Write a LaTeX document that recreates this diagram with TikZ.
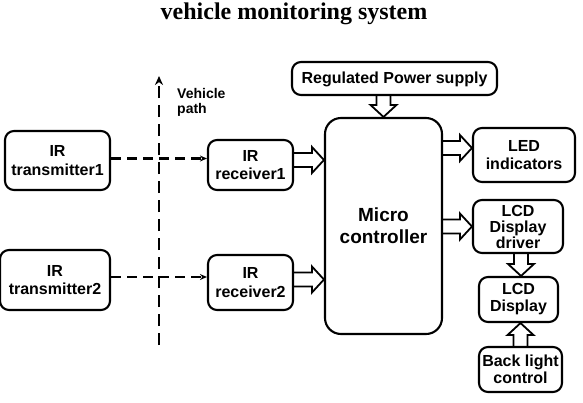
\documentclass[tikz,border=0pt]{standalone}
\usepackage{fontspec}
\setmainfont{Liberation Sans}
\newfontfamily\titlefont{Liberation Serif}
\usetikzlibrary{calc,arrows.meta}
\tikzset{
  blk/.style={draw, line width=2.1pt, rounded corners=9pt, align=center, font=\bfseries\fontsize{16}{18.5}\selectfont, inner sep=1pt},
  barrowstyle/.style={draw, line width=1.8pt, line join=miter},
  dashconn/.style={line width=2.2pt, dash pattern=on 10pt off 6pt, -{Stealth[length=7pt,width=6pt]}},
}
\newcommand\blockarrow[2]{%
  \path let \p1=($(#2)-(#1)$), \n1={veclen(\x1,\y1)}, \n2={atan2(\y1,\x1)} in
    \pgfextra{\xdef\balen{\n1}\xdef\baang{\n2}};
  \begin{scope}[shift={(#1)}, rotate=\baang, x=1pt, y=1pt]
    \draw[barrowstyle] (0,7) -- (\balen-12,7) -- (\balen-12,13) -- (\balen,0) -- (\balen-12,-13) -- (\balen-12,-7) -- (0,-7);
  \end{scope}}
\begin{document}
\begin{tikzpicture}[x=1pt,y=-1pt]
\useasboundingbox (0,0) rectangle (583,402);
\node[font=\titlefont\bfseries\fontsize{24}{26}\selectfont] (title) at (294,14) {vehicle monitoring system};

\node[blk, minimum width=105pt, minimum height=59pt] (tx1) at (57.5,160.5) {IR\\transmitter1};
\node[blk, minimum width=110pt, minimum height=60pt] (tx2) at (55,280) {IR\\transmitter2};
\node[blk, minimum width=85pt, minimum height=50pt] (rx1) at (250.5,165) {IR\\receiver1};
\node[blk, minimum width=85pt, minimum height=55pt] (rx2) at (250.5,282.5) {IR\\receiver2};
\node[blk, rounded corners=16pt, minimum width=117pt, minimum height=216pt, font=\bfseries\fontsize{19}{22}\selectfont] (mc) at (383.5,226) {Micro\\controller};
\node[blk, minimum width=205pt, minimum height=33pt, text depth=2pt] (ps) at (394.5,78.5) {Regulated Power supply};
\node[blk, minimum width=102pt, minimum height=54pt] (led) at (524,155) {LED\\indicators};
\node[blk, minimum width=90pt, minimum height=53pt, font=\bfseries\fontsize{16}{16}\selectfont] (drv) at (518,226.5) {LCD\\Display\\driver};
\node[blk, minimum width=79pt, minimum height=45pt, font=\bfseries\fontsize{16}{17}\selectfont] (lcd) at (518.5,299.5) {LCD\\Display};
\node[blk, minimum width=83pt, minimum height=45pt, font=\bfseries\fontsize{16}{17}\selectfont] (bl) at (520.5,369.5) {Back light\\control};

% vehicle path
\coordinate (vpb) at (159,345);
\coordinate (vpt) at (159,76);
\draw[line width=2.6pt, dash pattern=on 12pt off 7pt, -{Stealth[length=9pt,width=8pt]}] (vpb) -- (vpt);
\node[anchor=north west, align=left, inner sep=0pt, font=\bfseries\fontsize{14}{15}\selectfont] (vp) at (177,88) {Vehicle\\path};

% IR links
\draw[dashconn] ([yshift=2pt]tx1.east) -- ([yshift=2pt]tx1.east -| rx1.west);
\draw[dashconn] ([yshift=3pt]tx2.east) -- ([yshift=3pt]tx2.east -| rx2.west);

% block arrows
\blockarrow{[yshift=5pt]rx1.east}{[yshift=5pt]rx1.east -| mc.west}
\blockarrow{[yshift=3pt]rx2.east}{[yshift=3pt]rx2.east -| mc.west}
\blockarrow{ps.south -| mc.north}{mc.north}
\blockarrow{[yshift=7pt]mc.east |- led.west}{[yshift=7pt]led.west}
\blockarrow{mc.east |- drv.west}{drv.west}
\blockarrow{[xshift=3pt]drv.south}{[xshift=3pt]drv.south |- lcd.north}
\blockarrow{bl.north}{bl.north |- lcd.south}
\end{tikzpicture}
\end{document}
